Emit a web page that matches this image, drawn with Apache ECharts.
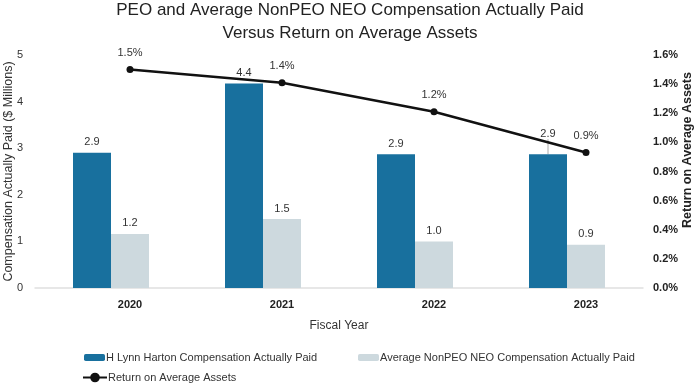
<!DOCTYPE html>
<html>
<head>
<meta charset="utf-8">
<script src="https://cdn.jsdelivr.net/npm/echarts@6/dist/echarts.min.js"></script>
<style>html,body{margin:0;padding:0;background:#fff}#c{width:700px;height:383px}</style>
</head>
<body>
<div id="c"></div>
<script>
const categories = ['2020', '2021', '2022', '2023'];
const peoValues = [2.9, 4.39, 2.87, 2.87];
const neoValues = [1.16, 1.48, 1.0, 0.93];
const roaValues = [1.50, 1.41, 1.21, 0.93];
const leftTicks = [0, 1, 2, 3, 4, 5];
const rightTicks = [0, 0.2, 0.4, 0.6, 0.8, 1.0, 1.2, 1.4, 1.6];

const seriesNames = {
  peo: 'H Lynn Harton Compensation Actually Paid',
  neo: 'Average NonPEO NEO Compensation Actually Paid',
  roa: 'Return on Average Assets'
};
const FONT = 'Liberation Sans, Arial, sans-serif';
const DARK = '#18709e';
const LIGHT = '#cdd9de';
const movedLabelIndex = 3;

const chart = echarts.init(document.getElementById('c'), null, {renderer: 'canvas'});
const gridTop = 55, gridBottom = 95;
chart.setOption({
  animation: false,
  textStyle: {fontFamily: FONT},
  title: {
    text: 'PEO and Average NonPEO NEO Compensation Actually Paid\nVersus Return on Average Assets',
    left: 'center', top: -6,
    textStyle: {fontSize: 17, fontWeight: 'normal', color: '#222', lineHeight: 23, fontFamily: FONT}
  },
  legend: [
    {data: [seriesNames.peo], left: 79, top: 347, itemWidth: 21, itemHeight: 7, itemGap: 0,
     textStyle: {fontSize: 11, color: '#333', padding: [0, 0, 0, -4]}},
    {data: [seriesNames.neo], left: 353, top: 347, itemWidth: 21, itemHeight: 7, itemGap: 0,
     textStyle: {fontSize: 11, color: '#333', padding: [0, 0, 0, -4]}},
    {data: [seriesNames.roa], left: 77, top: 367, itemWidth: 24, itemHeight: 12, itemGap: 0,
     textStyle: {fontSize: 11, color: '#333', padding: [0, 0, 0, -4]}}
  ],
  grid: [
    {left: 35, right: 57, top: gridTop, bottom: gridBottom, containLabel: false, outerBoundsMode: 'none'},
    {left: 54, right: 38, top: gridTop, bottom: gridBottom, containLabel: false, outerBoundsMode: 'none'}
  ],
  xAxis: [
    {type: 'category', gridIndex: 0, data: categories,
     axisLine: {show: true, lineStyle: {color: '#e0e0e0', width: 1.5}},
     axisTick: {show: false}, axisLabel: {show: false},
     name: 'Fiscal Year', nameLocation: 'middle', nameGap: 32, nameMoveOverlap: false,
     nameTextStyle: {fontSize: 12, color: '#333'}},
    {type: 'category', gridIndex: 1, data: categories,
     axisLine: {show: false}, axisTick: {show: false},
     axisLabel: {show: true, fontSize: 11, fontWeight: 'bold', color: '#222', margin: 11}}
  ],
  yAxis: [
    {type: 'value', gridIndex: 0, min: leftTicks[0], max: leftTicks[leftTicks.length - 1], interval: 1,
     axisLine: {show: false}, axisTick: {show: false}, splitLine: {show: false},
     axisLabel: {fontSize: 11, color: '#333', margin: 12},
     name: 'Compensation Actually Paid ($ Millions)', nameLocation: 'middle', nameGap: 20, nameMoveOverlap: false,
     nameTextStyle: {fontSize: 12.5, color: '#333'}},
    {type: 'value', gridIndex: 0, position: 'right', min: rightTicks[0], max: rightTicks[rightTicks.length - 1], interval: 0.2,
     axisLine: {show: false}, axisTick: {show: false}, splitLine: {show: false},
     axisLabel: {fontSize: 11, color: '#222', fontWeight: 'bold', margin: 10, formatter: v => v.toFixed(1) + '%'},
     name: 'Return on Average Assets', nameLocation: 'middle', nameGap: 38, nameRotate: 90, nameMoveOverlap: false,
     nameTextStyle: {fontSize: 12.5, color: '#222', fontWeight: 'bold', padding: [0, 0, 0, 43]}},
    {type: 'value', gridIndex: 1, min: rightTicks[0], max: rightTicks[rightTicks.length - 1], interval: 0.2, show: false}
  ],
  series: [
    {name: seriesNames.peo, type: 'bar', xAxisIndex: 0, yAxisIndex: 0,
     data: peoValues.map((v, i) => i === movedLabelIndex
       ? {value: v, labelLine: {show: true, lineStyle: {color: '#aaa', width: 1}}}
       : {value: v, labelLine: {show: false}}),
     barWidth: 38, barGap: '0%', itemStyle: {color: DARK},
     label: {show: true, position: 'top', distance: 5, fontSize: 11, color: '#333', formatter: p => p.value.toFixed(1)},
     labelLayout: p => p.dataIndex === movedLabelIndex ? {dy: -10} : {},
     labelLine: {show: false}},
    {name: seriesNames.neo, type: 'bar', xAxisIndex: 0, yAxisIndex: 0, data: neoValues,
     barWidth: 38, barGap: '0%', itemStyle: {color: LIGHT},
     label: {show: true, position: 'top', distance: 5, fontSize: 11, color: '#333', formatter: p => p.value.toFixed(1)}},
    {name: seriesNames.roa, type: 'line', xAxisIndex: 1, yAxisIndex: 2, data: roaValues,
     symbol: 'circle', symbolSize: 7, lineStyle: {color: '#111', width: 2.5}, itemStyle: {color: '#111'},
     label: {show: true, position: 'top', distance: 8, fontSize: 11, color: '#333', formatter: p => p.value.toFixed(1) + '%'}}
  ]
});
</script>
</body>
</html>
